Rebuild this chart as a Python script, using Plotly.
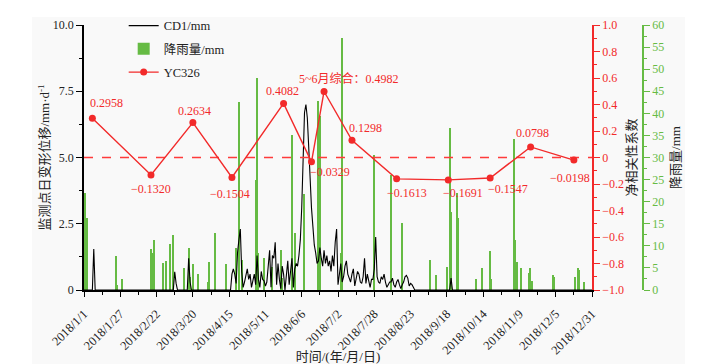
import plotly.graph_objects as go
import pandas as pd

START = pd.Timestamp("2018-01-01")

# ---------------- data ----------------
x_tick_labels = ["2018/1/1", "2018/1/27", "2018/2/22", "2018/3/20", "2018/4/15",
                 "2018/5/11", "2018/6/6", "2018/7/2", "2018/7/28", "2018/8/23",
                 "2018/9/18", "2018/10/14", "2018/11/9", "2018/12/5", "2018/12/31"]

# CD1 daily deformation (day index from 2018-01-01, mm/d)
cd1_day = [0, 6, 7, 8, 64, 65, 66, 67, 74, 75, 76, 77] + list(range(105, 238)) + [262, 263, 264, 364]
cd1_val = [0, 0, 1.55, 0, 0, 0.69, 0.25, 0, 0, 1.2, 0.3, 0,
           0, 0.6, 0.8, 0.6, 0.25, 1.4, 1.9, 2.3, 0.7, 0.1,
           0.3, 0.5, 0.8, 0.4, 0.6, 0.1, 0.4, 0.6, 0.2, 1.3,
           0.4, 0.1, 0.7, 0.4, 0.35, 0.15, 0.3, 0.9, 1.5, 0.1,
           1.3, 1.2, 1.8, 0.2, 1.0, 0.4, 0.05, 0.9, 0.6, 0.0,
           0.6, 1.1, 0.2, 0.7, 1.2, 0.1, 0.8, 1.0, 0.9, 1.3,
           1.9, 3.1, 5.2, 6.7, 7.0, 6.5, 5.4, 3.9, 3.1, 2.4,
           1.7, 1.4, 1.0, 1.1, 1.6, 1.2, 0.9, 1.5, 1.0, 1.3,
           0.9, 1.1, 0.7, 1.3, 0.9, 1.8, 2.3, 0.2, 0.6, 1.0,
           0.3, 0.5, 0.9, 1.1, 0.6, 0.4, 0.3, 0.6, 0.8, 0.15,
           0.4, 0.7, 0.6, 0.3, 0.25, 0.5, 1.2, 0.25, 0.6, 0.4,
           0.1, 0.4, 0.4, 0.8, 2.0, 0.5, 0.3, 0.25, 0.5, 0.4,
           0.6, 0.3, 0.1, 0.2, 0.3, 0.3, 0.45, 0.2, 0.1, 0.3,
           0.4, 0.2, 0.05, 0.2, 0.3, 0.5, 0.55, 0.45, 0.15, 0.25,
           0.2, 0.1, 0,
           0, 0.45, 0, 0]

# daily rainfall (day index, mm)
rain_day = [1, 2, 23, 24, 27, 48, 49, 50, 57, 59, 62, 64, 72, 75, 76, 78, 82, 89, 90, 94,
            102, 109, 111, 113, 123, 124, 125, 129, 135, 141, 142, 149, 151, 158, 168,
            169, 184, 185, 208, 220, 228, 248, 252, 260, 262, 263, 267, 268, 281, 285,
            291, 292, 308, 309, 310, 313, 319, 320, 321, 336, 337, 352, 354, 355, 358]
rain_mm = [22.0, 16.4, 7.6, 1.1, 2.6, 9.2, 8.3, 11.3, 6.2, 6.6, 10.4, 12.5, 5.0, 9.6, 3.0,
           6.0, 3.7, 1.9, 6.3, 12.8, 5.9, 9.5, 42.5, 6.8, 25.0, 48.0, 8.3, 7.2, 5.3, 9.0,
           2.7, 35.1, 12.8, 21.8, 42.8, 39.4, 8.3, 57.0, 30.5, 26.0, 15.1, 6.8, 3.4, 5.3,
           36.6, 17.7, 22.0, 16.2, 2.6, 4.9, 8.9, 2.6, 34.3, 11.4, 6.4, 4.9, 3.8, 4.9, 2.0,
           3.4, 3.0, 3.0, 4.9, 4.5, 1.9]

# YC326 net correlation coefficient
corr_day = [6, 48, 78, 106, 143, 163, 172, 192, 224, 261, 291, 320, 351]
corr_val = [0.2958, -0.1320, 0.2634, -0.1504, 0.4082, -0.0329, 0.4982,
            0.1298, -0.1613, -0.1691, -0.1547, 0.0798, -0.0198]
corr_prefix = ["", "", "", "", "", "", "5~6月综合：", "", "", "", "", "", ""]
corr_reference = 0.0  # zero-correlation reference line

# ---------------- styling ----------------
label_shift = [(14, 15), (0, -14), (2, 12), (-2, -17), (-1, 12), (19, -10), (25, 13),
               (14, 12), (10, -14), (15, -13), (18, -11), (2, 14), (-4, -18)]

RED = "#f22a2a"
GREEN = "#66bb44"
FONT = "Liberation Serif, Noto Sans CJK SC, serif"
YDOM = [0, 265 / 273]
END = START + pd.Timedelta(days=364)


def to_date(days):
    return [START + pd.Timedelta(days=int(d)) for d in days]


def fmt(v):
    s = f"{abs(v):.4f}"
    return ("−" if v < 0 else "") + s


x_tick_vals = [pd.to_datetime(t, format="%Y/%m/%d") for t in x_tick_labels]

fig = go.Figure()

fig.add_trace(go.Scatter(
    x=to_date(cd1_day), y=cd1_val, yaxis="y2", mode="lines",
    line=dict(color="black", width=1.1), name="CD1/mm",
    legendgroup="a", legendrank=1))

fig.add_trace(go.Bar(
    x=to_date(rain_day), y=rain_mm, yaxis="y", name="降雨量/mm",
    marker=dict(color=GREEN, line=dict(width=0)), width=0.9 * 86400000,
    legendgroup="b", legendrank=2))

fig.add_trace(go.Scatter(
    x=[START, END], y=[corr_reference, corr_reference], yaxis="y3", mode="lines",
    line=dict(color="#ff3b3b", width=1.3, dash="dash"), showlegend=False,
    hoverinfo="skip"))

fig.add_trace(go.Scatter(
    x=to_date(corr_day), y=corr_val, yaxis="y3", mode="lines+markers",
    line=dict(color=RED, width=1.4), marker=dict(color=RED, size=7),
    name="YC326", legendgroup="c", legendrank=3))

annotations = []
for d, v, p, (dx, dy) in zip(to_date(corr_day), corr_val, corr_prefix, label_shift):
    annotations.append(dict(
        x=d, y=v, xref="x", yref="y3", text=p + fmt(v), showarrow=False,
        xshift=dx, yshift=dy, font=dict(family=FONT, size=12, color=RED)))

TITLE_FONT = dict(family=FONT, size=13, color="#222")

fig.update_layout(
    width=713, height=364,
    margin=dict(l=84, r=70, t=17, b=74, autoexpand=False),
    paper_bgcolor="white", plot_bgcolor="rgba(0,0,0,0)",
    font=dict(family=FONT, size=12, color="#222"),
    showlegend=True,
    legend=dict(x=0.071, y=1.022, xanchor="left", yanchor="top",
                bgcolor="rgba(0,0,0,0)", font=dict(family=FONT, size=12.5, color="#222"),
                tracegroupgap=4, traceorder="grouped"),
    bargap=0,
    annotations=annotations,
    xaxis=dict(
        type="date", domain=[0, 0.9088], range=[START, END],
        tickvals=x_tick_vals, ticktext=x_tick_labels, tickangle=-45,
        tickfont=dict(family=FONT, size=12.5, color="#222"), ticklabelstandoff=5,
        ticks="outside", ticklen=5, tickwidth=1.2, tickcolor="black",
        minor=dict(dtick=13 * 86400000, tick0="2018-01-01", ticks="outside",
                   ticklen=3, tickwidth=1.2, tickcolor="black"),
        showline=True, linecolor="black", linewidth=1.5,
        showgrid=False, zeroline=False, anchor="y2", automargin=False,
        title=dict(text="时间/(年/月/日)", font=TITLE_FONT, standoff=2)),
    yaxis=dict(
        domain=YDOM,
        range=[0, 60], side="right", anchor="free", position=1.0,
        tickvals=list(range(0, 61, 5)), ticks="outside", ticklen=6, tickwidth=1.2,
        tickcolor=GREEN, minor=dict(dtick=2.5, ticks="outside", ticklen=3,
                                    tickwidth=1.2, tickcolor=GREEN),
        showline=True, linecolor=GREEN, linewidth=1.5,
        tickfont=dict(family=FONT, size=12, color=GREEN),
        showgrid=False, zeroline=False, automargin=False,
        title=dict(text="降雨量/mm", font=TITLE_FONT, standoff=7)),
    yaxis2=dict(
        domain=YDOM,
        range=[0, 10], side="left", overlaying="y", anchor="x",
        tickvals=[0, 2.5, 5, 7.5, 10], ticktext=["0", "2.5", "5.0", "7.5", "10.0"],
        ticks="outside", ticklen=6, tickwidth=1.2, tickcolor="black",
        minor=dict(dtick=1.25, ticks="outside", ticklen=3, tickwidth=1.2, tickcolor="black"),
        showline=True, linecolor="black", linewidth=1.5,
        tickfont=dict(family=FONT, size=12, color="#222"),
        showgrid=False, zeroline=False, automargin=False,
        title=dict(text="监测点日变形位移/mm·d<sup>-1</sup>", font=TITLE_FONT, standoff=0)),
    yaxis3=dict(
        domain=YDOM,
        range=[-1, 1], side="right", overlaying="y", anchor="x",
        tickvals=[1.0, 0.8, 0.6, 0.4, 0.2, 0, -0.2, -0.4, -0.6, -0.8, -1.0],
        ticktext=["1.0", "0.8", "0.6", "0.4", "0.2", "0", "−0.2", "−0.4", "−0.6", "−0.8", "−1.0"],
        ticks="outside", ticklen=6, tickwidth=1.2, tickcolor=RED,
        minor=dict(dtick=0.1, ticks="outside", ticklen=3, tickwidth=1.2, tickcolor=RED),
        showline=True, linecolor=RED, linewidth=1.5,
        tickfont=dict(family=FONT, size=12, color=RED),
        showgrid=False, zeroline=False, automargin=False,
        title=dict(text="净相关性系数", font=TITLE_FONT, standoff=4)),
    shapes=[
        dict(type="rect", xref="paper", yref="paper", x0=-0.093, x1=1.075, y0=-0.3, y1=1.0,
             fillcolor="#f9f9f9", line=dict(width=0), layer="below"),
    ],
)

fig.write_html("out.html", config={"displayModeBar": False},
               post_script="document.body.style.margin='0';")
